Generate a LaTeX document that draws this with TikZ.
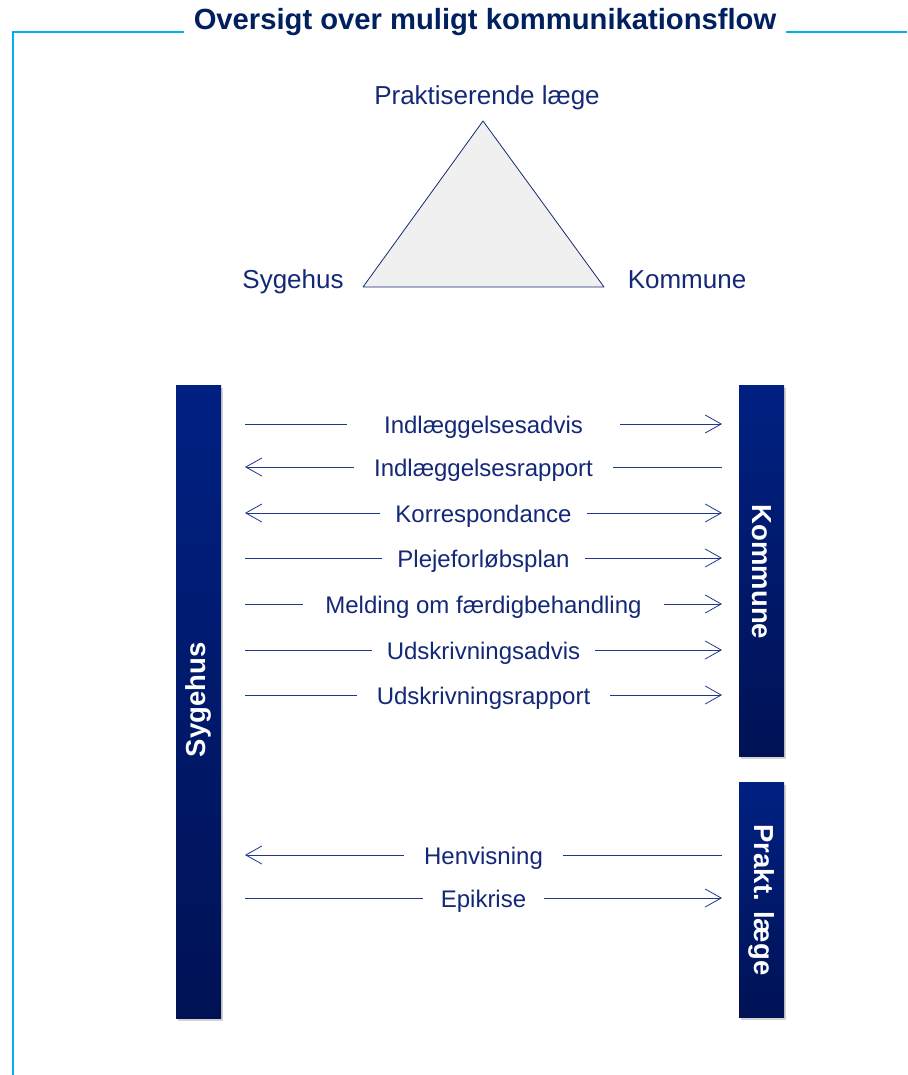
\documentclass[tikz,border=0pt]{standalone}
\usepackage{fontspec}
\setmainfont{Liberation Sans}
\usetikzlibrary{arrows.meta,shadows}

\definecolor{frameCyan}{RGB}{0,176,240}
\definecolor{titleBlue}{RGB}{0,32,96}
\definecolor{txtBlue}{RGB}{20,40,120}
\definecolor{lineBlue}{RGB}{31,56,140}
\definecolor{barTop}{RGB}{0,32,130}
\definecolor{barBot}{RGB}{0,18,85}
\definecolor{triFill}{RGB}{240,240,240}

\begin{document}
\begin{tikzpicture}[x=1pt, y=-1pt,
  bar/.style={draw=none, top color=barTop, bottom color=barBot, minimum width=45pt,
              inner sep=0pt, drop shadow={opacity=0.35, shadow xshift=2pt, shadow yshift=-3pt}},
  barlbl/.style={text=white, font=\fontsize{27.5}{30}\selectfont\bfseries, inner sep=0pt},
  corner/.style={text=txtBlue, font=\fontsize{26}{30}\selectfont, anchor=base, inner sep=0pt},
  msg/.style={fill=white, text=txtBlue, font=\fontsize{24}{28}\selectfont, anchor=base,
              inner ysep=2pt},
  msgline/.style={lineBlue, line width=0.8pt},
  fwd/.style={msgline, -{Straight Barb[length=16pt, width=18pt]}},
  bwd/.style={msgline, {Straight Barb[length=16pt, width=18pt]}-},
  dual/.style={msgline, {Straight Barb[length=16pt, width=18pt]}-{Straight Barb[length=16pt, width=18pt]}}
]
\useasboundingbox (0,0) rectangle (907,1075);

% frame with title
\coordinate (fbot) at (13,1075);
\coordinate (ftop) at (13,32);
\coordinate (fend) at (907,32);
\draw[frameCyan, line width=1.6pt] (fbot) -- (ftop) -- (fend);
\node[fill=white, text=titleBlue, font=\fontsize{29.2}{33}\selectfont\bfseries,
      anchor=base, inner xsep=10pt, inner ysep=3pt] (title) at (485,30)
      {Oversigt over muligt kommunikationsflow};

% triangle of the three parties
\coordinate (apex) at (483,121);
\coordinate (bl) at (363,287);
\coordinate (br) at (604,287);
\draw[txtBlue, fill=triFill, line width=0.8pt, line join=round] (apex) -- (br) -- (bl) -- cycle;
\node[corner] (praktlbl) at (487,105) {Praktiserende læge};
\node[corner] (syglbl)   at (293,288) {Sygehus};
\node[corner] (komlbl)   at (687,288) {Kommune};

% actor bars
\node[bar, minimum height=633pt] (syg)   at (198.5,701.5) {};
\node[bar, minimum height=371pt] (kom)   at (761.5,570.5) {};
\node[bar, minimum height=235pt] (prakt) at (761.5,899.5) {};
\node[barlbl, rotate=90]  (sygtxt)   at (198.5,700) {Sygehus};
\node[barlbl, rotate=-90] (komtxt)   at (761.5,572) {Kommune};
\node[barlbl, rotate=-90] (prakttxt) at (761.5,900) {Prakt. læge};

% messages
\foreach \i/\y/\dir/\txt/\pad in {
    1/424/fwd/Indlæggelsesadvis/37,
    2/467/bwd/Indlæggelsesrapport/20,
    3/513/dual/Korrespondance/15,
    4/558/fwd/Plejeforløbsplan/15,
    5/604/fwd/Melding om færdigbehandling/22,
    6/650/fwd/Udskrivningsadvis/15,
    7/695/fwd/Udskrivningsrapport/20,
    8/855/bwd/Henvisning/20,
    9/898/fwd/Epikrise/18} {
  \coordinate (l\i) at (245,\y);
  \coordinate (r\i) at (722,\y);
  \draw[\dir] (l\i) -- (r\i);
  \node[msg, inner xsep=\pad pt] (m\i) at (483.5,{\y+9}) {\txt};
}

\end{tikzpicture}
\end{document}
